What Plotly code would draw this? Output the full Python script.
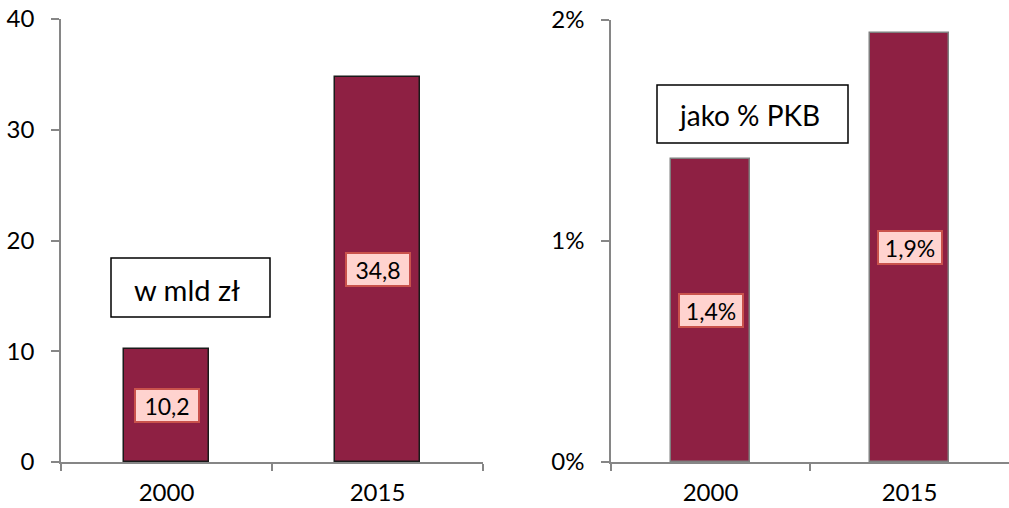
import plotly.graph_objects as go

years = ["2000", "2015"]
mld_values = [10.2, 34.8]
mld_labels = ["10,2", "34,8"]
pkb_values = [1.37, 1.94]
pkb_labels = ["1,4%", "1,9%"]
left_ticks = [0, 10, 20, 30, 40]
right_ticks = [0, 1, 2]
right_ticktext = ["0%", "1%", "2%"]

BAR = "#8E2043"
AXIS = "#868686"
FONT = "Lato, 'Open Sans', sans-serif"

fig = go.Figure()
fig.add_trace(go.Bar(x=years, y=mld_values, width=0.4, marker=dict(color=BAR, line=dict(color="#1a1a1a", width=1.5)),
                     xaxis="x", yaxis="y", hoverinfo="skip"))
fig.add_trace(go.Bar(x=years, y=pkb_values, width=0.4, marker=dict(color=BAR, line=dict(color="#7f7f7f", width=1.5)),
                     xaxis="x2", yaxis="y2", hoverinfo="skip"))

annotations = []
for xr, yr, vals, labs in [("x", "y", mld_values, mld_labels), ("x2", "y2", pkb_values, pkb_labels)]:
    for i, (v, lab) in enumerate(zip(vals, labs)):
        annotations.append(dict(x=i, y=v / 2, xref=xr, yref=yr, text=lab, showarrow=False,
                                font=dict(size=23, color="black", family=FONT), width=58, height=27,
                                bgcolor="#FFD3CF", bordercolor="#C9524C", borderwidth=2, borderpad=2))

# text boxes
annotations.append(dict(x=132 / 1009, y=1 - 289 / 508, xref="paper", yref="paper", xanchor="left", yanchor="middle",
                        text="w mld zł", showarrow=False, font=dict(size=29, color="black", family=FONT)))
annotations.append(dict(x=677 / 1009, y=1 - 115 / 508, xref="paper", yref="paper", xanchor="left", yanchor="middle",
                        text="jako % PKB", showarrow=False, font=dict(size=28, color="black", family=FONT)))

shapes = [
    dict(type="rect", xref="paper", yref="paper", x0=111 / 1009, x1=270 / 1009, y0=1 - 317 / 508, y1=1 - 258 / 508,
         line=dict(color="black", width=1.5), fillcolor="white", layer="above"),
    dict(type="rect", xref="paper", yref="paper", x0=657 / 1009, x1=848 / 1009, y0=1 - 143 / 508, y1=1 - 85 / 508,
         line=dict(color="black", width=1.5), fillcolor="white", layer="above"),
]

xaxis_common = dict(type="category", range=[-0.5, 1.5], showline=True, linecolor=AXIS, linewidth=1.5,
                    ticks="outside", tickson="boundaries", ticklen=7, tickcolor=AXIS, tickwidth=1.5,
                    showgrid=False, zeroline=False, ticklabelstandoff=8, automargin=False,
                    tickfont=dict(size=24, color="black", family=FONT), fixedrange=True)
yaxis_common = dict(showline=True, linecolor=AXIS, linewidth=1.5, ticks="outside", ticklen=8, tickcolor=AXIS,
                    tickwidth=1.5, showgrid=False, zeroline=False, ticklabelstandoff=12, automargin=False,
                    tickfont=dict(size=24, color="black", family=FONT), fixedrange=True)

fig.update_layout(
    template="none",
    width=1009, height=508, margin=dict(l=0, r=0, t=0, b=0, pad=0),
    paper_bgcolor="white", plot_bgcolor="white", showlegend=False, bargap=0,
    xaxis=dict(domain=[61 / 1009, 483 / 1009], anchor="y", **xaxis_common),
    yaxis=dict(domain=[46 / 508, 489 / 508], anchor="x", range=[0, 40], tickvals=left_ticks, **yaxis_common),
    xaxis2=dict(domain=[611 / 1009, 1.0], anchor="y2", **xaxis_common),
    yaxis2=dict(domain=[46 / 508, 488 / 508], anchor="x2", range=[0, 2], tickvals=right_ticks,
                ticktext=right_ticktext, **yaxis_common),
    annotations=annotations, shapes=shapes,
)

fig.write_html("out.html", config={"displayModeBar": False},
               post_script="document.body.style.margin='0';document.body.style.overflow='hidden';")
